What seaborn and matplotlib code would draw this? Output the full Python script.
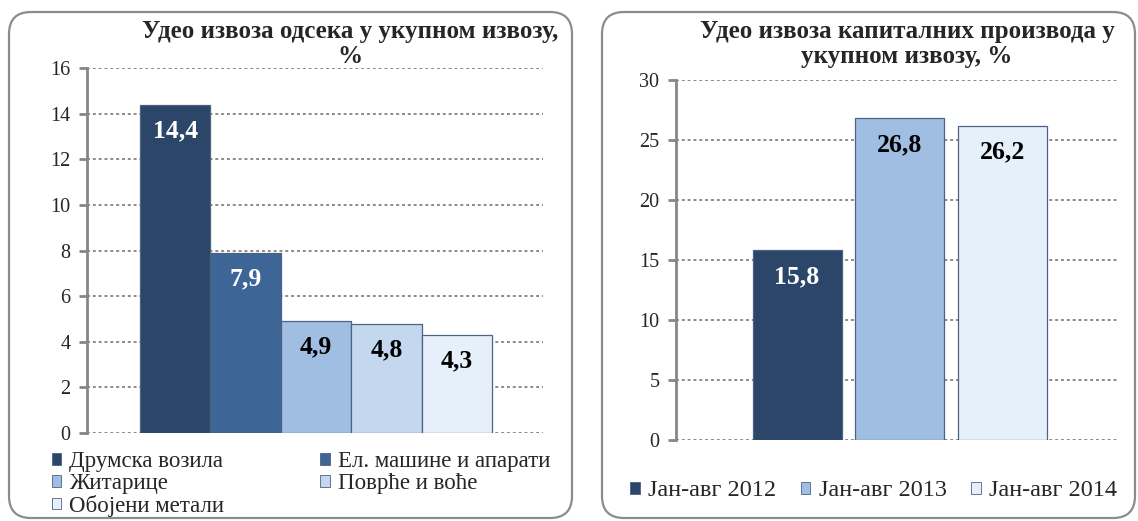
import matplotlib
matplotlib.use("Agg")
import matplotlib.pyplot as plt
import seaborn as sns
import pandas as pd
from matplotlib.patches import FancyBboxPatch, Patch
from matplotlib.transforms import IdentityTransform

# ---------------- data ----------------
left_title = "Удео извоза одсека у укупном извозу,\n%"
left_categories = ["Друмска возила", "Ел. машине и апарати", "Житарице",
                   "Поврће и воће", "Обојени метали"]
left_values = [14.4, 7.9, 4.9, 4.8, 4.3]
left_labels = ["14,4", "7,9", "4,9", "4,8", "4,3"]
left_colors = ["#2B4668", "#3D6596", "#A0BDE2", "#C3D7EF", "#E6F0FB"]
left_label_colors = ["white", "white", "black", "black", "black"]
left_yticks = [0, 2, 4, 6, 8, 10, 12, 14, 16]

right_title = "Удео извоза капиталних производа у\nукупном извозу, %"
right_categories = ["Јан-авг 2012", "Јан-авг 2013", "Јан-авг 2014"]
right_values = [15.8, 26.8, 26.2]
right_labels = ["15,8", "26,8", "26,2"]
right_colors = ["#2B4668", "#A0BDE2", "#E6F0FB"]
right_label_colors = ["white", "black", "black"]
right_yticks = [0, 5, 10, 15, 20, 25, 30]

# ---------------- figure ----------------
sns.set_style("white")
plt.rcParams["font.family"] = ["Liberation Serif", "DejaVu Serif"]

W, H = 1138, 521
fig = plt.figure(figsize=(W / 100, H / 100), dpi=100)


def px_axes(x0, x1, ytop, ybot):
    return fig.add_axes([x0 / W, (H - ybot) / H, (x1 - x0) / W, (ybot - ytop) / H])


def border(x0, x1, ytop, ybot):
    p = FancyBboxPatch((x0, H - ybot), x1 - x0, ybot - ytop,
                       boxstyle="round,pad=0,rounding_size=22",
                       transform=IdentityTransform(), fill=False,
                       edgecolor="#8c8c8c", linewidth=1.6)
    fig.patches.append(p)


def style_axes(ax, yticks):
    ax.set_ylim(yticks[0], yticks[-1])
    ax.set_yticks(yticks)
    ax.set_xticks([])
    ax.set_xlabel("")
    ax.set_ylabel("")
    for s in ["top", "right", "bottom"]:
        ax.spines[s].set_visible(False)
    ax.spines["left"].set_color("#868686")
    ax.spines["left"].set_linewidth(2)
    ax.tick_params(axis="y", which="major", direction="out", length=6, width=2,
                   color="#868686", labelsize=14.5, pad=6, left=True)
    ax.yaxis.grid(True, linestyle=(0, (1.5, 1.5)), color="#8a8a8a", linewidth=1.4)
    ax.set_axisbelow(True)
    ax.patch.set_alpha(0)


def annotate(ax, values, labels, colors):
    for i, (v, lab, c) in enumerate(zip(values, labels, colors)):
        ax.annotate(lab, (i, v), xytext=(0, -26), textcoords="offset pixels",
                    ha="center", va="center", fontsize=18.5, fontweight="bold",
                    color=c)


# ---- left panel ----
border(9, 572, 12, 518)
ax1 = px_axes(87, 543, 68, 433)
df1 = pd.DataFrame({"cat": left_categories, "val": left_values})
sns.barplot(data=df1, x="cat", y="val", hue="cat", palette=left_colors,
            width=1.0, legend=False, ax=ax1, edgecolor="#4d6180", linewidth=0.9,
            saturation=1)
ax1.set_xlim(-1.252, 5.223)
style_axes(ax1, left_yticks)
annotate(ax1, left_values, left_labels, left_label_colors)
fig.text(350 / W, 1 - 44 / H, left_title, ha="center", va="center",
         fontsize=18, fontweight="bold", linespacing=1.12)

order = [0, 2, 4, 1, 3]
handles1 = [Patch(facecolor=left_colors[i], edgecolor="#4d6180", linewidth=0.6)
            for i in order]
fig.legend(handles1, [left_categories[i] for i in order], ncol=2,
           loc="upper left", bbox_to_anchor=(52 / W, 1 - 451 / H),
           frameon=False, fontsize=16.5, handlelength=0.4, handleheight=0.4,
           handletextpad=0.35, columnspacing=4.2, labelspacing=0.04,
           borderaxespad=0, borderpad=0)

# ---- right panel ----
border(602, 1135, 12, 518)
ax2 = px_axes(676, 1118, 80, 440)
df2 = pd.DataFrame({"cat": right_categories, "val": right_values})
sns.barplot(data=df2, x="cat", y="val", hue="cat", palette=right_colors,
            width=0.868, legend=False, ax=ax2, edgecolor="#4d6180", linewidth=0.9,
            saturation=1)
ax2.set_xlim(-1.18, 3.13)
style_axes(ax2, right_yticks)
annotate(ax2, right_values, right_labels, right_label_colors)
fig.text(907 / W, 1 - 44 / H, right_title, ha="center", va="center",
         fontsize=18, fontweight="bold", linespacing=1.12)

handles2 = [Patch(facecolor=c, edgecolor="#4d6180", linewidth=0.6) for c in right_colors]
fig.legend(handles2, right_categories, ncol=3,
           loc="center left", bbox_to_anchor=(630 / W, 1 - 491 / H),
           frameon=False, fontsize=17.5, handlelength=0.4, handleheight=0.4,
           handletextpad=0.35, columnspacing=1.0,
           borderaxespad=0, borderpad=0)

fig.savefig("out.png", dpi=100)
